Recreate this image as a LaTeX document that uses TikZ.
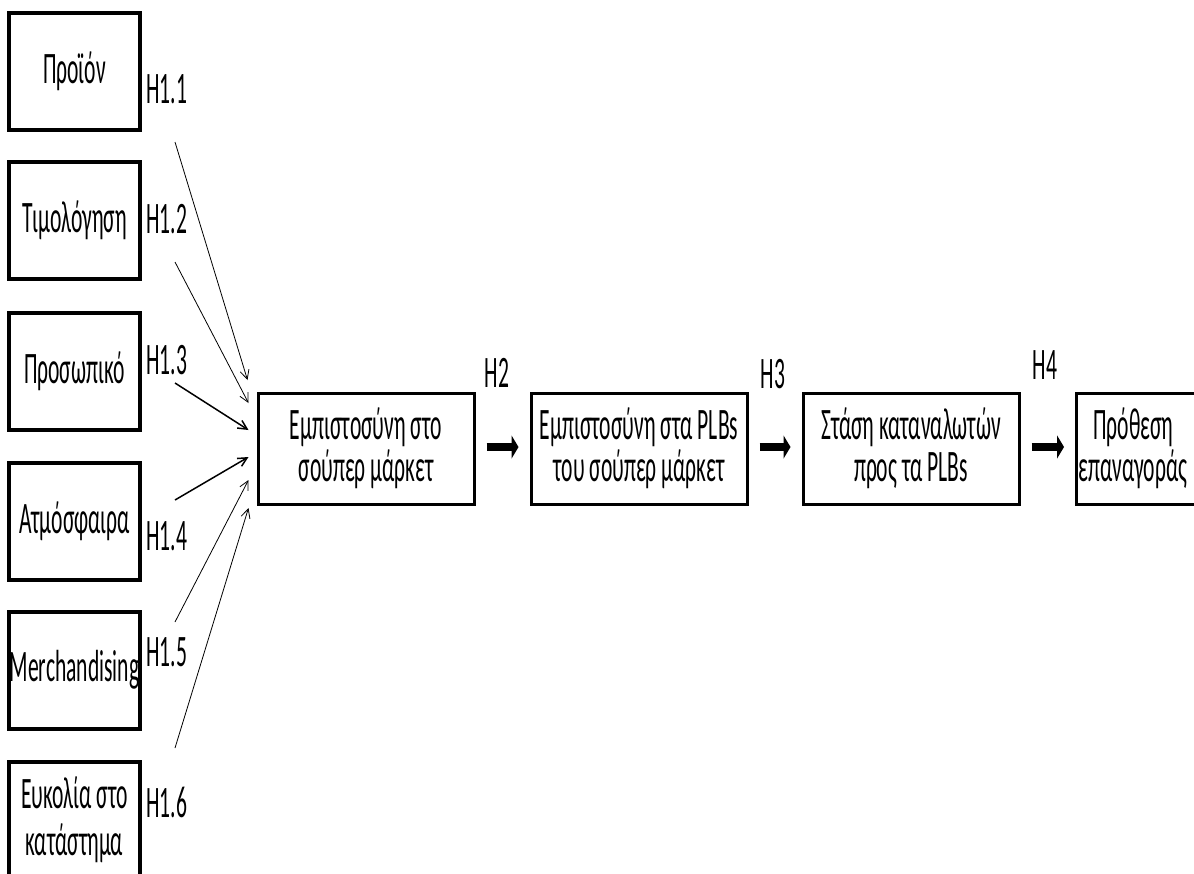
\documentclass[tikz,border=0pt]{standalone}
\usepackage{fontspec}
\setmainfont{Carlito}[FakeStretch=0.48]
\usetikzlibrary{arrows.meta,calc}
\begin{document}
\begin{tikzpicture}[x=1pt,y=-1pt,
  every node/.style={font=\fontsize{45}{45}\selectfont, inner sep=0pt, text=black},
  leftbox/.style={draw=black, line width=4pt, minimum width=131pt, minimum height=117pt, align=center, font=\fontsize{45}{47}\selectfont},
  mainbox/.style={draw=black, line width=3pt, minimum width=216pt, minimum height=111pt, align=center, font=\fontsize{45}{42}\selectfont},
  hlabel/.style={anchor=west},
  thinarrow/.style={line width=0.8pt, -{Straight Barb[length=9pt,width=9pt]}},
  midarrow/.style={line width=1.5pt, -{Straight Barb[length=9pt,width=9pt]}},
  bigarrow/.style={line width=8pt, -{Triangle[length=7pt 0 0,width=23pt 0 0]}, shorten <=11pt, shorten >=11pt}
]
\useasboundingbox (0,0) rectangle (1194,873);
\clip (0,0) rectangle (1194,873);
\fill[white] (0,0) rectangle (1194,873);

% left column
\node[leftbox] (b1) at (74.5,71) {Προϊόν};
\node[leftbox] (b2) at (74.5,220) {Τιμολόγηση};
\node[leftbox] (b3) at (74.5,371) {Προσωπικό};
\node[leftbox] (b4) at (74.5,521.5) {Ατμόσφαιρα};
\node[leftbox] (b5) at (74.5,670) {Merchandising};
\node[leftbox] (b6) at (74.5,820) {Ευκολία στο\\κατάστημα};

% hypothesis labels
\node[hlabel] (h11) at (146,89) {H1.1};
\node[hlabel] (h12) at (146,219) {H1.2};
\node[hlabel] (h13) at (146,360) {H1.3};
\node[hlabel] (h14) at (146,536) {H1.4};
\node[hlabel] (h15) at (146,652) {H1.5};
\node[hlabel] (h16) at (146,802) {H1.6};

% main chain
\node[mainbox] (b7) at (366,448.5) {Εμπιστοσύνη στο\\σούπερ μάρκετ};
\node[mainbox] (b8) at (639,448.5) {Εμπιστοσύνη στα PLBs\\του σούπερ μάρκετ};
\node[mainbox] (b9) at (911,448.5) {Στάση καταναλωτών\\προς τα PLBs};
\node[mainbox, anchor=west, align=left, text width=256pt, inner xsep=2pt] (b10) at (1075,448.5) {\hspace*{15pt}Πρόθεση\\επαναγοράς};

\node (h2) at (497,373) {H2};
\node (h3) at (773,374) {H3};
\node (h4) at (1045,365) {H4};

% arrow end points
\coordinate (s1) at (175,142);
\coordinate (s2) at (175,262);
\coordinate (s3) at (175,383);
\coordinate (s4) at (175,500);
\coordinate (s5) at (175,622);
\coordinate (s6) at (175,748);
\coordinate (e1) at ($(b7.west)+(-9,-68.5)$);
\coordinate (e2) at ($(b7.west)+(-8,-45.5)$);
\coordinate (e3) at ($(b7.west)+(-8,-18.5)$);
\coordinate (e4) at ($(b7.west)+(-8,8.5)$);
\coordinate (e5) at ($(b7.west)+(-8,31.5)$);
\coordinate (e6) at ($(b7.west)+(-8,59.5)$);

\draw[thinarrow] (s1) -- (e1);
\draw[thinarrow] (s2) -- (e2);
\draw[midarrow] (s3) -- (e3);
\draw[midarrow] (s4) -- (e4);
\draw[thinarrow] (s5) -- (e5);
\draw[thinarrow] (s6) -- (e6);

\draw[bigarrow] ($(b7.east)+(0,-1.5)$) -- ($(b8.west)+(0,-1.5)$);
\draw[bigarrow] ($(b8.east)+(0,-1.5)$) -- ($(b9.west)+(0,-1.5)$);
\draw[bigarrow] ($(b9.east)+(0,-1.5)$) -- ($(b10.west)+(0,-1.5)$);
\end{tikzpicture}
\end{document}
